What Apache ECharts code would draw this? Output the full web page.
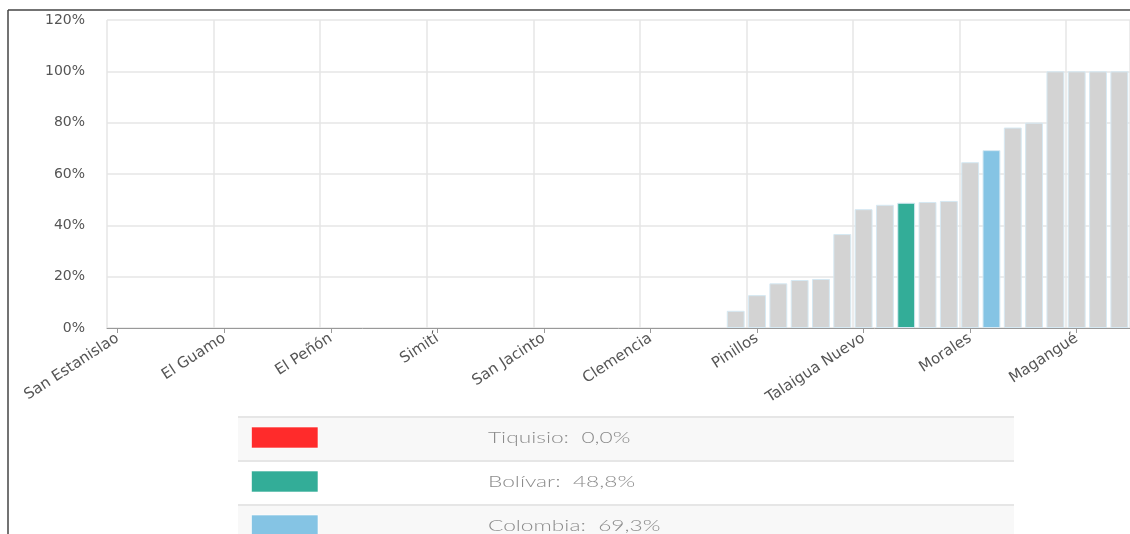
<!DOCTYPE html>
<html>
<head>
<meta charset="utf-8">
<script src="https://cdn.jsdelivr.net/npm/echarts@6/dist/echarts.min.js"></script>
<style>
html,body{margin:0;padding:0;background:#fff;}
#chart{width:1130px;height:534px;}
</style>
</head>
<body>
<div id="chart"></div>
<script>
const categories = [
  'San Estanislao','Achí','Altos del Rosario','Arenal','Arroyohondo',
  'El Guamo','Barranco de Loba','Calamar','Cantagallo','Cicuco',
  'El Peñón','Córdoba','Hatillo de Loba','Mahates','Margarita',
  'Simití','Montecristo','Norosí','Regidor','Río Viejo',
  'San Jacinto','San Cristóbal','San Fernando','San Jacinto del Cauca','San Martín de Loba',
  'Clemencia','Santa Catalina','Soplaviento','Tiquisio','Santa Rosa del Sur',
  'Pinillos','Zambrano','Villanueva','San Pablo','Santa Rosa',
  'Talaigua Nuevo','María La Baja','Bolívar','Turbaná','Arjona',
  'Morales','Colombia','El Carmen de Bolívar','San Juan Nepomuceno','Mompós',
  'Magangué','Turbaco','Cartagena'
];
const values = [
  0,0,0,0,0,
  0,0,0,0,0,
  0,0,0,0,0,
  0,0,0,0,0,
  0,0,0,0,0,
  0,0,0,0,6.7,
  12.8,17.4,18.7,19.1,36.6,
  46.3,48.0,48.8,49.1,49.5,
  64.6,69.3,78.1,80.0,100,
  100,100,100
];
const yTicks = [0,20,40,60,80,100,120];
const highlightNames = ['Tiquisio','Bolívar','Colombia'];
const highlightColors = ['#ff2b2b','#33ad98','#85c4e4'];

const baseColor = '#d3d3d3';
const barData = values.map((v,i)=>{
  const h = highlightNames.indexOf(categories[i]);
  return {value:v, itemStyle:{color: h>=0 ? highlightColors[h] : baseColor,
    borderWidth: v > 0 ? 1 : 0}};
});

// legend table built from the named arrays
const graphics = [];
const rowTop = 417, rowH = 44, rowLeft = 238, rowW = 776;
highlightNames.forEach((name,k)=>{
  const idx = categories.indexOf(name);
  const txt = name + ':  ' + values[idx].toFixed(1).replace('.',',') + '%';
  const y = rowTop + k*rowH;
  graphics.push({type:'rect', shape:{x:rowLeft,y:y,width:rowW,height:rowH},
    style:{fill: k%2===0 ? '#f8f8f8' : '#ffffff'}, silent:true, z:1});
  graphics.push({type:'line', shape:{x1:rowLeft,y1:y,x2:rowLeft+rowW,y2:y},
    style:{stroke:'#e6e6e6', lineWidth:2}, silent:true, z:2});
  graphics.push({type:'rect', shape:{x:251.5,y:y+10,width:66.5,height:21},
    style:{fill: highlightColors[k], stroke:'rgba(255,255,255,0.6)', lineWidth:1}, silent:true, z:3});
  graphics.push({type:'text', x:488, y:y+20.5, scaleX:1.42, style:{text:txt, fill:'#8c8c8c',
    font:'300 16px Lato', textVerticalAlign:'middle'}, silent:true, z:3});
});
// outer frame
graphics.push({type:'line', shape:{x1:8,y1:10,x2:1130,y2:10}, style:{stroke:'#444',lineWidth:1.5}, silent:true, z:5});
graphics.push({type:'line', shape:{x1:8,y1:10,x2:8,y2:534}, style:{stroke:'#444',lineWidth:1.5}, silent:true, z:5});

const chart = echarts.init(document.getElementById('chart'), null, {renderer:'canvas'});
chart.setOption({
  animation:false,
  grid:{left:107, right:-1, top:20, bottom:206, containLabel:false},
  xAxis:{
    type:'category',
    data:categories,
    boundaryGap:true,
    axisLine:{show:true, lineStyle:{color:'#999', width:1}},
    axisTick:{show:true, alignWithLabel:true, interval:4, length:5, lineStyle:{color:'#999'}},
    axisLabel:{interval:4, rotate:33, color:'#555', fontFamily:'DejaVu Sans', fontSize:15, margin:9},
    splitLine:{show:true, interval:4, lineStyle:{color:'#e6e6e6', width:1.5}}
  },
  yAxis:{
    type:'value',
    min:yTicks[0], max:yTicks[yTicks.length-1], interval:20,
    axisLine:{show:false}, axisTick:{show:false},
    axisLabel:{formatter:'{value}%', color:'#555', fontFamily:'DejaVu Sans', fontSize:14, margin:22},
    splitLine:{show:true, lineStyle:{color:'#e6e6e6', width:1.5}}
  },
  series:[{
    type:'bar',
    data:barData,
    barCategoryGap:'16%',
    itemStyle:{borderColor:'#d6e9f3', borderWidth:1}
  }],
  graphic:graphics
});
</script>
</body>
</html>
